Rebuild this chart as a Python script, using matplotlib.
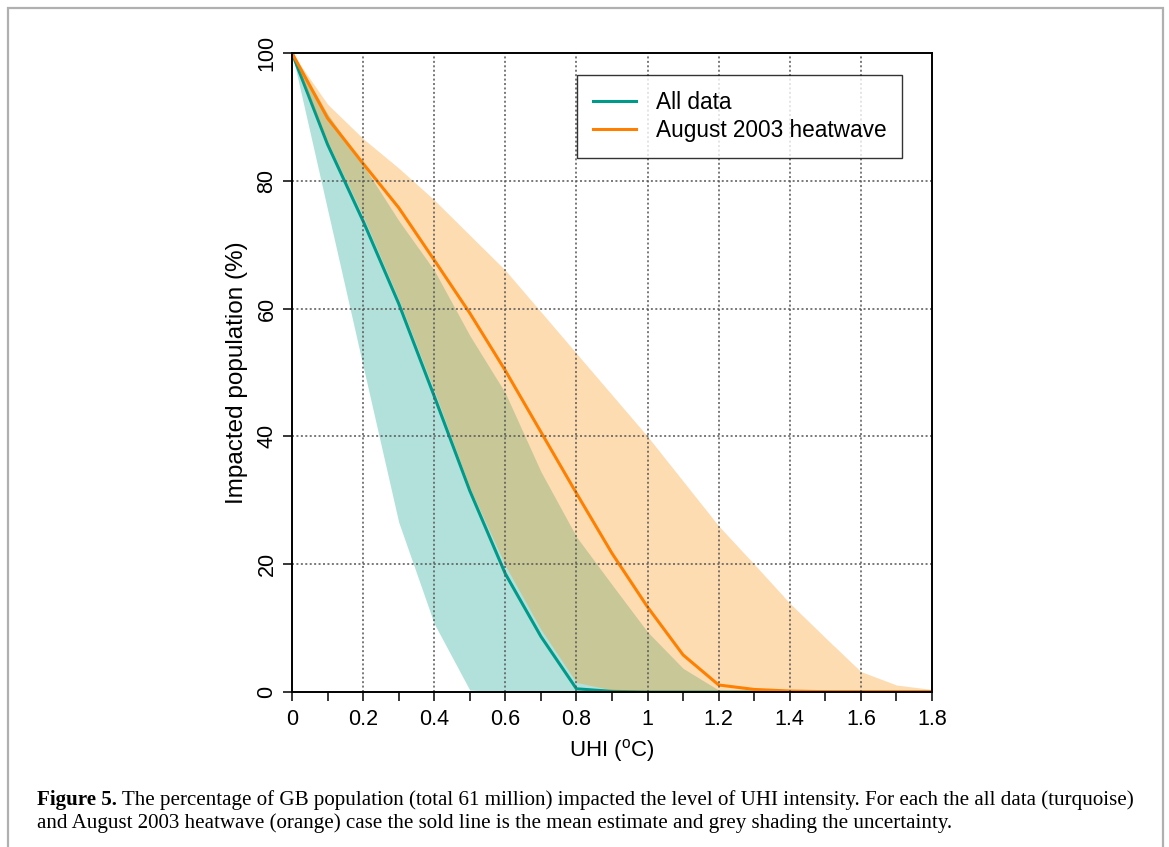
import matplotlib
matplotlib.use("Agg")
import matplotlib.pyplot as plt
import numpy as np
from matplotlib.patches import Rectangle
from matplotlib.lines import Line2D

plt.rcParams['font.family'] = ['Liberation Sans', 'DejaVu Sans']
plt.rcParams['mathtext.fontset'] = 'custom'
plt.rcParams['mathtext.rm'] = 'Liberation Sans'
plt.rcParams['mathtext.it'] = 'Liberation Sans'

# ---- data ----
uhi = [0.0, 0.1, 0.2, 0.3, 0.4, 0.5, 0.6, 0.7, 0.8, 0.9,
       1.0, 1.1, 1.2, 1.3, 1.4, 1.5, 1.6, 1.7, 1.8]

all_mean = [100, 85.7, 73.7, 60.8, 46.3, 31.5, 18.5, 8.7, 0.5, 0.1,
            0, 0, 0, 0, 0, 0, 0, 0, 0]
all_low = [100, 75.5, 51.0, 26.6, 10.7, 0.3, 0, 0, 0, 0,
           0, 0, 0, 0, 0, 0, 0, 0, 0]
all_high = [100, 90.5, 82.5, 73.8, 66.0, 55.8, 46.8, 34.5, 24.3, 16.8,
            9.4, 3.7, 0.3, 0, 0, 0, 0, 0, 0]

hw_mean = [100, 89.8, 82.7, 75.8, 67.6, 59.3, 50.3, 40.7, 31.1, 21.7,
           13.3, 5.8, 1.1, 0.4, 0.15, 0.05, 0.05, 0.05, 0.05]
hw_low = [100, 86.2, 74.5, 61.5, 47.2, 32.0, 19.8, 9.8, 1.5, 0.3,
          0, 0, 0, 0, 0, 0, 0, 0, 0]
hw_high = [100, 92.0, 86.6, 82.0, 77.0, 71.5, 66.0, 59.5, 53.0, 46.5,
           40.0, 33.0, 26.0, 20.0, 13.9, 8.5, 3.2, 1.1, 0.4]

x_ticks = [0, 0.2, 0.4, 0.6, 0.8, 1.0, 1.2, 1.4, 1.6, 1.8]
x_ticklabels = ['0', '0.2', '0.4', '0.6', '0.8', '1', '1.2', '1.4', '1.6', '1.8']
x_minor = [0.1, 0.3, 0.5, 0.7, 0.9, 1.1, 1.3, 1.5, 1.7]
y_ticks = [0, 20, 40, 60, 80, 100]
y_ticklabels = ['0', '20', '40', '60', '80', '100']

labels = ['All data', 'August 2003 heatwave']
caption_bold = 'Figure 5.'
caption_line1 = (' The percentage of GB population (total 61 million) impacted the level '
                 'of UHI intensity. For each the all data (turquoise)')
caption_line2 = ('and August 2003 heatwave (orange) case the sold line is the mean '
                 'estimate and grey shading the uncertainty.')

teal = '#009A8A'
orange = '#FF8000'
teal_fill = '#009E8A'
orange_fill = '#FA8C00'

# ---- figure ----
W, H = 1169, 847
fig = plt.figure(figsize=(W / 100, H / 100), dpi=100)
ax = fig.add_axes([292 / W, 1 - 692 / H, (932 - 292) / W, (692 - 53) / H])

ax.fill_between(uhi, all_low, all_high, color=teal_fill, alpha=0.3, lw=0, zorder=1)
ax.plot(uhi, all_mean, color=teal, lw=2.2, zorder=2, solid_joinstyle='miter')
ax.fill_between(uhi, hw_low, hw_high, color=orange_fill, alpha=0.3, lw=0, zorder=3)
ax.plot(uhi, hw_mean, color=orange, lw=2.2, zorder=4, solid_joinstyle='miter')

ax.set_xlim(0, 1.8)
ax.set_ylim(0, 100)

ax.set_xticks(x_ticks)
ax.set_xticklabels(x_ticklabels)
ax.set_xticks(x_minor, minor=True)
ax.set_yticks(y_ticks)
ax.set_yticklabels(y_ticklabels, rotation=90, va='center')

ax.tick_params(axis='both', which='both', direction='out', length=6.5, width=1.1,
               color='black', labelsize=15.5, pad=6)
ax.tick_params(axis='y', pad=4)

for v in x_ticks[1:-1]:
    ax.axvline(v, color='#555555', lw=1.1, ls=(0, (1.3, 1.6)), zorder=5)
for v in y_ticks[1:-1]:
    ax.axhline(v, color='#555555', lw=1.1, ls=(0, (1.3, 1.6)), zorder=5)

for s in ax.spines.values():
    s.set_linewidth(1.4)
    s.set_color('black')
    s.set_zorder(6)

ax.set_xlabel(r'UHI ($^{\rm o}$C)', fontsize=16, labelpad=5)
ax.set_ylabel('Impacted population (%)', fontsize=17.5, labelpad=6)

handles = [Line2D([], [], color=teal, lw=2.2), Line2D([], [], color=orange, lw=2.2)]
leg = ax.legend(handles, labels, loc='upper right',
                bbox_to_anchor=((902 - 292) / 640, (692 - 75) / 639),
                fontsize=16.3, frameon=True, fancybox=False, edgecolor='black',
                handlelength=1.9, handletextpad=0.88, borderpad=0.7, labelspacing=0.22,
                borderaxespad=0)
leg.get_frame().set_linewidth(1.0)
leg.set_zorder(10)

# outer frame
fig.patches.append(Rectangle((8 / W, -0.01), (1163 - 8) / W, (H - 8) / H + 0.01,
                             transform=fig.transFigure, fill=False,
                             edgecolor='#b0b0b0', lw=1.6))

# caption: fit line 1 between x=37 and x=1135
serif = ['Liberation Serif', 'DejaVu Serif']
renderer = fig.canvas.get_renderer()
fs = 13.2
tb = fig.text(37 / W, 1 - 805 / H, caption_bold, fontsize=fs, family=serif,
              fontweight='bold', va='baseline', ha='left')
t1 = fig.text(0, 1 - 805 / H, caption_line1, fontsize=fs, family=serif,
              va='baseline', ha='left')
w = tb.get_window_extent(renderer).width + t1.get_window_extent(renderer).width
fs = fs * (1135 - 37) / w
tb.set_fontsize(fs)
t1.set_fontsize(fs)
bb = tb.get_window_extent(renderer)
t1.set_x(bb.x1 / W)
fig.text(37 / W, 1 - 828 / H, caption_line2, fontsize=fs, family=serif,
         va='baseline', ha='left')

fig.savefig('out.png', dpi=100)
